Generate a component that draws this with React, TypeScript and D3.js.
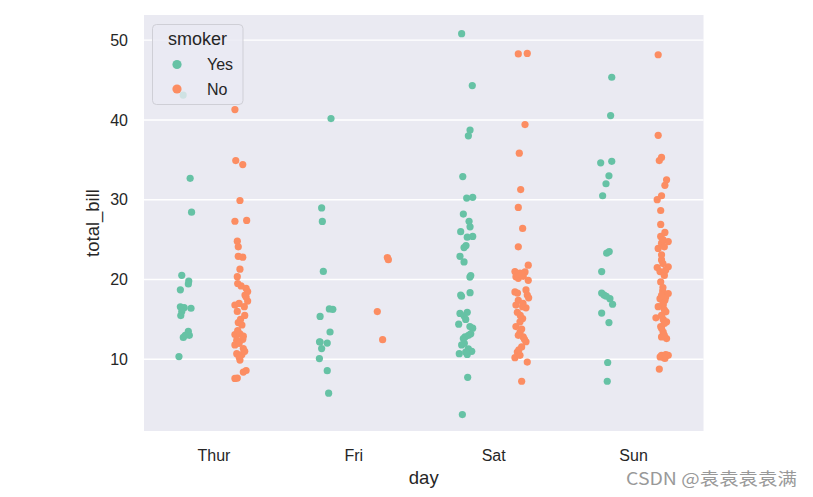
import React, { useEffect, useRef } from 'react';
import * as d3 from 'd3';

const days = ['Thur', 'Fri', 'Sat', 'Sun'];
const smokers = ['Yes', 'No'];
const yTicks = [10, 20, 30, 40, 50];

const colors = ['#66c2a5', '#fc8d62']; // Set2: Yes, No

// each point: [total_bill, jitter as a fraction of the category width]
const thurYes: [number, number][] = [
  [43.11, -0.02], [32.68, 0.03], [28.44, 0.04], [20.53, -0.03], [19.81, 0.02], [19.44, 0.017],
  [18.71, -0.04], [16.58, -0.04], [16.47, -0.013], [16.4, 0.036], [16.0, -0.03], [15.48, -0.037],
  [13.51, 0.017], [12.74, -0.019], [13.0, 0.024], [13.0, -0.005], [10.34, -0.05],
];

const thurNo: [number, number][] = [
  [41.3, -0.05], [34.9, -0.044], [34.4, 0.006], [29.9, -0.014], [27.3, -0.05], [27.4, 0.034],
  [24.8, -0.033], [24.1, -0.026], [22.9, -0.026], [22.8, 0.006], [21.3, -0.014], [20.35, -0.033],
  [19.2, -0.006], [18.9, 0.03], [18.5, 0.041], [18.05, 0.022], [17.3, 0.041], [16.8, -0.05],
  [16.6, 0.017], [16.0, -0.033], [14.6, -0.026], [14.3, 0.0], [13.1, -0.05], [13.2, -0.014],
  [12.4, -0.037], [12.5, 0.006], [11.8, -0.05], [11.35, 0.01], [10.7, -0.037], [10.6, 0.0],
  [9.9, -0.014], [8.6, 0.03], [8.4, 0.01], [7.6, -0.05], [7.65, -0.033],
  [10.3, -0.02], [11.0, 0.02], [12.0, -0.02], [12.9, 0.01], [13.6, -0.03], [15.0, -0.01],
  [15.5, 0.02], [17.0, -0.02], [17.8, 0.03], [19.5, -0.03],
];

const friYes: [number, number][] = [
  [40.17, 0.037], [28.97, -0.03], [27.28, -0.025], [21.01, -0.018], [16.32, 0.025], [16.27, 0.05],
  [15.38, -0.041], [13.42, 0.03], [12.16, -0.041], [12.03, 0.01], [11.35, -0.03], [10.09, -0.046],
  [8.58, 0.01], [5.75, 0.02], [12.2, -0.045],
];

const friNo: [number, number][] = [
  [22.75, 0.04], [22.49, 0.047], [15.98, -0.032], [12.46, 0.006],
];

const satYes: [number, number][] = [
  [50.81, -0.029], [44.3, 0.047], [38.73, 0.031], [38.01, 0.019], [32.9, -0.021], [30.2, 0.007],
  [30.3, 0.05], [28.2, -0.017], [27.3, 0.024], [26.6, 0.031], [26.0, -0.036], [25.3, 0.011],
  [25.4, 0.05], [24.25, 0.002], [24.0, -0.012], [22.9, -0.041], [22.2, -0.012], [20.5, 0.036],
  [18.05, -0.036], [18.35, 0.031], [15.75, -0.041], [15.9, 0.011], [15.45, -0.012], [14.4, -0.05],
  [13.9, 0.05], [13.2, 0.036], [12.8, -0.005], [12.6, -0.017], [11.8, -0.029], [11.3, 0.019],
  [10.7, -0.046], [11.0, 0.043], [10.6, 0.011], [7.74, 0.014], [3.07, -0.024],
  [20.3, 0.03], [17.9, -0.03], [15.0, 0.0], [13.0, 0.02], [12.0, -0.01], [10.9, 0.0], [14.1, 0.03],
];

const satNo: [number, number][] = [
  [48.27, -0.024], [48.33, 0.04], [39.42, 0.024], [35.83, -0.017], [31.27, -0.007], [29.03, -0.024],
  [26.4, 0.007], [24.1, -0.024], [21.8, 0.047], [21.0, -0.048], [20.8, -0.012], [20.95, 0.024],
  [20.35, -0.041], [20.15, -0.024], [20.4, 0.011], [19.9, 0.047], [18.45, -0.048], [18.7, 0.031],
  [18.05, 0.04], [17.7, 0.05], [17.4, -0.024], [16.8, -0.041], [16.6, 0.007], [16.45, 0.031],
  [15.9, -0.031], [15.1, 0.007], [14.7, -0.012], [14.1, -0.041], [13.4, -0.012], [12.8, 0.011],
  [13.0, -0.024], [12.2, 0.031], [11.55, 0.0], [10.9, -0.031], [10.2, -0.048], [10.5, -0.012],
  [9.65, 0.04], [7.25, 0.0],
  [20.6, 0.0], [18.3, -0.03], [17.0, 0.01], [15.5, -0.01], [13.8, 0.0], [12.5, 0.02], [11.2, -0.02],
];

const sunYes: [number, number][] = [
  [45.35, 0.044], [40.55, 0.036], [34.63, -0.035], [34.81, 0.044], [33.0, 0.024], [32.0, 0.003],
  [30.5, -0.021], [23.3, 0.008], [23.5, 0.026], [21.0, -0.028], [18.3, -0.028], [18.05, -0.011],
  [17.6, 0.031], [16.9, 0.05], [15.8, -0.028], [14.6, 0.024], [9.6, 0.015], [7.25, 0.012],
  [17.9, 0.005],
];

const sunNo: [number, number][] = [
  [48.17, -0.024], [38.07, -0.024], [35.3, 0.0], [34.9, -0.016], [32.5, 0.036], [31.8, 0.024],
  [30.5, 0.0], [30.0, -0.031], [28.65, -0.006], [26.9, -0.006], [25.9, 0.024], [25.4, -0.006],
  [24.75, 0.048], [23.9, -0.024], [24.55, 0.0], [22.45, 0.0], [21.6, 0.048], [21.5, -0.031],
  [21.0, -0.011], [20.8, 0.017], [19.7, -0.006], [18.55, 0.008], [18.25, 0.048], [17.6, -0.011],
  [17.4, 0.024], [16.8, 0.012], [16.6, -0.024], [15.95, 0.031], [15.2, -0.04], [15.0, 0.012],
  [14.7, 0.036], [14.1, -0.006], [13.4, 0.012], [12.6, 0.036], [12.8, 0.0], [10.5, 0.0],
  [10.5, 0.048], [10.1, 0.024], [8.77, -0.016],
  [10.3, 0.01], [10.3, -0.01], [10.6, 0.03], [13.0, 0.02], [13.9, 0.0], [14.5, 0.02], [15.5, 0.0],
  [16.2, 0.02], [17.0, 0.01], [17.8, 0.03], [18.0, 0.0], [19.0, 0.01], [20.5, 0.02], [21.2, 0.03],
  [22.0, 0.01], [23.1, 0.0], [24.1, 0.02], [25.0, 0.01],
];

const series: [number, number][][][] = [
  [thurYes, thurNo],
  [friYes, friNo],
  [satYes, satNo],
  [sunYes, sunNo],
];

const width = 813;
const height = 497;
const font = '"Liberation Sans", Arial, sans-serif';
const textColor = '#262626';

const App: React.FC = () => {
  const ref = useRef<SVGSVGElement | null>(null);

  useEffect(() => {
    if (!ref.current) return;

    const svg = d3.select(ref.current).attr('width', width).attr('height', height).html('');

    const plot = { left: 144, right: 703.5, top: 15, bottom: 431 };

    const x = d3.scaleBand<string>().domain(days).range([plot.left, plot.right]).padding(0);
    const y = d3.scaleLinear().domain([1.015, 53.15]).range([plot.bottom, plot.top]);
    const bw = x.bandwidth();

    // background
    svg
      .append('rect')
      .attr('x', plot.left)
      .attr('y', plot.top)
      .attr('width', plot.right - plot.left)
      .attr('height', plot.bottom - plot.top)
      .attr('fill', '#eaeaf2');

    // gridlines
    svg
      .append('g')
      .selectAll('line')
      .data(yTicks)
      .enter()
      .append('line')
      .attr('x1', plot.left)
      .attr('x2', plot.right)
      .attr('y1', (d) => y(d))
      .attr('y2', (d) => y(d))
      .attr('stroke', '#fff')
      .attr('stroke-width', 1.4);

    // y tick labels
    svg
      .append('g')
      .selectAll('text')
      .data(yTicks)
      .enter()
      .append('text')
      .attr('x', plot.left - 16)
      .attr('y', (d) => y(d))
      .attr('dy', '0.36em')
      .attr('text-anchor', 'end')
      .attr('font-family', font)
      .attr('font-size', '16px')
      .attr('fill', textColor)
      .text((d) => d);

    // x tick labels
    svg
      .append('g')
      .selectAll('text')
      .data(days)
      .enter()
      .append('text')
      .attr('x', (d) => x(d)! + bw / 2)
      .attr('y', 460.5)
      .attr('text-anchor', 'middle')
      .attr('font-family', font)
      .attr('font-size', '16px')
      .attr('fill', textColor)
      .text((d) => d);

    // axis labels
    svg
      .append('text')
      .attr('x', (plot.left + plot.right) / 2)
      .attr('y', 483.5)
      .attr('text-anchor', 'middle')
      .attr('font-family', font)
      .attr('font-size', '18.5px')
      .attr('fill', textColor)
      .text('day');

    svg
      .append('text')
      .attr('transform', `translate(99, ${(plot.top + plot.bottom) / 2}) rotate(-90)`)
      .attr('text-anchor', 'middle')
      .attr('font-family', font)
      .attr('font-size', '18.5px')
      .attr('fill', textColor)
      .text('total_bill');

    // points, dodged by smoker with jitter
    const points = series.flatMap((pair, di) =>
      pair.flatMap((arr, si) =>
        arr.map(([v, j]) => ({ day: days[di], si, v, j }))
      )
    );

    svg
      .append('g')
      .selectAll('circle')
      .data(points)
      .enter()
      .append('circle')
      .attr('cx', (d) => x(d.day)! + bw / 2 + (d.si - 0.5) * 0.4 * bw + d.j * bw)
      .attr('cy', (d) => y(d.v))
      .attr('r', 3.6)
      .attr('fill', (d) => colors[d.si]);

    // legend
    const lg = svg.append('g');
    lg.append('rect')
      .attr('x', 152.5)
      .attr('y', 24.5)
      .attr('width', 90.5)
      .attr('height', 80)
      .attr('rx', 4)
      .attr('fill', 'rgba(234,234,242,0.8)')
      .attr('stroke', '#cfcfd6')
      .attr('stroke-width', 1);
    lg.append('text')
      .attr('x', 197.5)
      .attr('y', 44.5)
      .attr('text-anchor', 'middle')
      .attr('font-family', font)
      .attr('font-size', '18px')
      .attr('fill', textColor)
      .text('smoker');
    smokers.forEach((s, i) => {
      const cy = 64.5 + i * 24.5;
      lg.append('circle').attr('cx', 177).attr('cy', cy).attr('r', 4.6).attr('fill', colors[i]);
      lg.append('text')
        .attr('x', 207)
        .attr('y', cy + 5.5)
        .attr('font-family', font)
        .attr('font-size', '16px')
        .attr('fill', textColor)
        .text(s);
    });

    // watermark
    svg
      .append('text')
      .attr('x', 626)
      .attr('y', 485)
      .attr('font-family', '"Noto Sans CJK SC", sans-serif')
      .attr('font-size', '17px')
      .attr('textLength', 171)
      .attr('lengthAdjust', 'spacingAndGlyphs')
      .attr('fill', '#999')
      .text('CSDN @袁袁袁袁满');
  }, []);

  return (
    <svg
      ref={ref}
      style={{ position: 'absolute', left: 0, top: 0, background: '#fff' }}
    ></svg>
  );
};

export default App;
